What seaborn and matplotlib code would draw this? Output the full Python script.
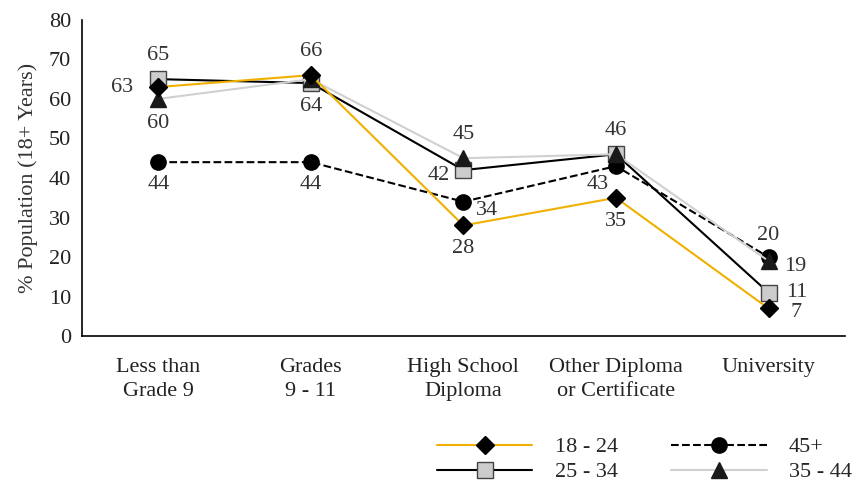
import numpy as np
import pandas as pd
import matplotlib
matplotlib.use("Agg")
import matplotlib.pyplot as plt
import seaborn as sns

# Data
categories = ["Less than\nGrade 9", "Grades\n9 - 11", "High School\nDiploma",
              "Other Diploma\nor Certificate", "University"]
age_18_24 = [63, 66, 28, 35, 7]
age_25_34 = [65, 64, 42, 46, 11]
age_35_44 = [60, 65, 45, 46, 19]
age_45_up = [44, 44, 34, 43, 20]

series_names = ["18 - 24", "25 - 34", "45+", "35 - 44"]
series_values = [age_18_24, age_25_34, age_45_up, age_35_44]

rows = []
for name, vals in zip(series_names, series_values):
    for i, v in enumerate(vals):
        rows.append({"group": name, "x": i, "value": v})
df = pd.DataFrame(rows)

sns.set_theme(style="white")
plt.rcParams["font.family"] = ["Liberation Serif", "DejaVu Serif"]

FS = 16
fig = plt.figure(figsize=(8.59, 4.83), dpi=100)
ax = fig.add_axes([0.0955, 0.304, 0.888, 0.655])

styles = {
    "25 - 34": dict(color="black", marker="s", mfc="#cccccc", mec="#444444", ls="-", ms=11, z=3),
    "45+": dict(color="black", marker="o", mfc="black", mec="black", ls="--", ms=11, z=4),
    "35 - 44": dict(color="#d0d0d0", marker="^", mfc="#1a1a1a", mec="#1a1a1a", ls="-", ms=11, z=5),
    "18 - 24": dict(color="#f0b000", marker="D", mfc="black", mec="black", ls="-", ms=9, z=6),
}

for name in ["25 - 34", "45+", "35 - 44", "18 - 24"]:
    st = styles[name]
    sub = df[df["group"] == name]
    sns.lineplot(data=sub, x="x", y="value", ax=ax, color=st["color"], lw=1.5,
                 linestyle=st["ls"], marker=st["marker"], markersize=st["ms"],
                 markerfacecolor=st["mfc"], markeredgecolor=st["mec"],
                 markeredgewidth=1, zorder=st["z"], label=name)

# data labels: (series, index, dx, dy, ha, va)
labels = [
    ("18 - 24", 0, -18, 0, "right", "center"),
    ("25 - 34", 0, 0, 10, "center", "bottom"),
    ("35 - 44", 0, 0, -11, "center", "top"),
    ("45+", 0, 0, -9, "center", "top"),
    ("18 - 24", 1, 0, 10, "center", "bottom"),
    ("25 - 34", 1, 0, -10, "center", "top"),
    ("45+", 1, 0, -9, "center", "top"),
    ("35 - 44", 2, 0, 10, "center", "bottom"),
    ("25 - 34", 2, -10, -4, "right", "center"),
    ("45+", 2, 9, -6, "left", "center"),
    ("18 - 24", 2, 0, -10, "center", "top"),
    ("25 - 34", 3, 0, 10, "center", "bottom"),
    ("45+", 3, -5, -13, "right", "center"),
    ("18 - 24", 3, 0, -10, "center", "top"),
    ("45+", 4, 0, 9, "center", "bottom"),
    ("35 - 44", 4, 11, -4, "left", "center"),
    ("25 - 34", 4, 13, 0, "left", "center"),
    ("18 - 24", 4, 16, -3, "left", "center"),
]
lookup = dict(zip(series_names, series_values))
for name, i, dx, dy, ha, va in labels:
    v = lookup[name][i]
    ax.annotate(f"{v}", (i, v), xytext=(dx, dy), textcoords="offset points",
                ha=ha, va=va, fontsize=FS, color="#333333", zorder=10)

ax.set_xlim(-0.5, 4.5)
ax.set_ylim(0, 80)
ax.set_yticks(range(0, 81, 10))
ax.set_xticks(range(5))
ax.set_xticklabels(categories, fontsize=FS, color="#222222", linespacing=1.35)
ax.tick_params(axis="y", labelsize=FS, labelcolor="#222222", length=0, pad=8)
ax.tick_params(axis="x", length=0, pad=16)
ax.set_xlabel("")
ax.set_ylabel("% Population (18+ Years)", fontsize=FS, color="#333333", labelpad=8)
for s in ["top", "right"]:
    ax.spines[s].set_visible(False)
for s in ["left", "bottom"]:
    ax.spines[s].set_color("black")
    ax.spines[s].set_linewidth(1.2)

h, l = ax.get_legend_handles_labels()
hd = dict(zip(l, h))
order = ["18 - 24", "25 - 34", "45+", "35 - 44"]
ax.legend([hd[k] for k in order], order, ncol=2, loc="upper left",
          bbox_to_anchor=(0.465, -0.318), frameon=False, fontsize=FS,
          handlelength=4.3, columnspacing=2.4, handletextpad=1.0,
          labelspacing=0.2, borderaxespad=0, borderpad=0)

fig.savefig("out.png", dpi=100)
